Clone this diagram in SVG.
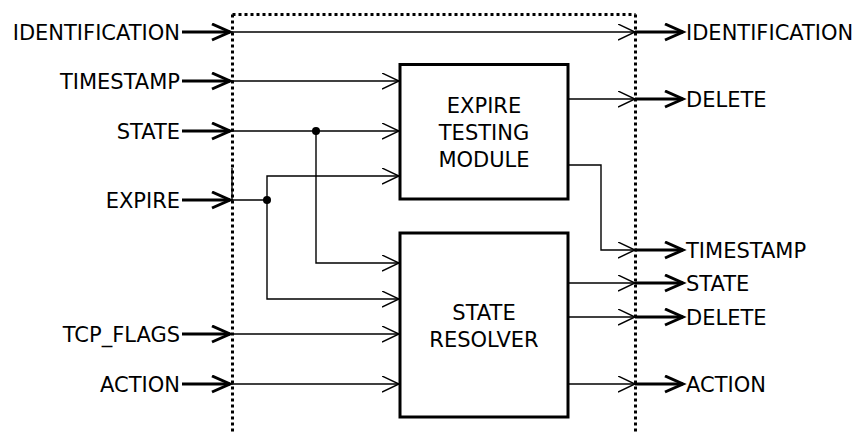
<svg xmlns="http://www.w3.org/2000/svg" width="858" height="432" viewBox="0 0 858 432">
<defs>
<style>
text{font-family:"DejaVu Sans","Liberation Sans",sans-serif;font-size:21px;fill:#000}
.lbl-in{text-anchor:end}
.mid{text-anchor:middle}
.thin{fill:none;stroke:#000;stroke-width:1.4}
.thick{fill:none;stroke:#000;stroke-width:3}
.box{fill:#fff;stroke:#000;stroke-width:3}
.dot{fill:none;stroke:#000;stroke-width:3;stroke-dasharray:3 3}
</style>
<marker id="ah" markerUnits="userSpaceOnUse" markerWidth="20" markerHeight="20" refX="17" refY="8" orient="auto" viewBox="0 0 20 20">
<path d="M0,0 L17,8 L0,16" fill="none" stroke="#000" stroke-width="1.4"/>
</marker>
<marker id="ahb" markerUnits="userSpaceOnUse" markerWidth="24" markerHeight="22" refX="19" refY="9" orient="auto" viewBox="0 0 24 22">
<path d="M1,1 L19,9 L1,17" fill="none" stroke="#000" stroke-width="3"/>
</marker>
</defs>
<g id="boundary">
<path class="dot" d="M232.5,14.5 H635.5"/>
<path class="dot" d="M232.5,14.5 V432"/>
<path class="dot" d="M635.5,14.5 V432"/>
<path class="thin" d="M232,168 V200"/>
</g>
<g id="connectors">
<path class="thick" d="M182,32 H230" marker-end="url(#ahb)"/>
<path class="thick" d="M182,81 H230" marker-end="url(#ahb)"/>
<path class="thick" d="M182,131 H230" marker-end="url(#ahb)"/>
<path class="thick" d="M182,200 H230" marker-end="url(#ahb)"/>
<path class="thick" d="M182,334 H230" marker-end="url(#ahb)"/>
<path class="thick" d="M182,384 H230" marker-end="url(#ahb)"/>
<path class="thin" d="M232,32 H635" marker-end="url(#ah)"/>
<path class="thin" d="M232,81 H399" marker-end="url(#ah)"/>
<path class="thin" d="M232,131 H399" marker-end="url(#ah)"/>
<path class="thin" d="M232,200 H267"/>
<path class="thin" d="M267,200 V176 H399" marker-end="url(#ah)"/>
<path class="thin" d="M267,200 V299 H399" marker-end="url(#ah)"/>
<path class="thin" d="M316,131 V263 H399" marker-end="url(#ah)"/>
<path class="thin" d="M232,334 H399" marker-end="url(#ah)"/>
<path class="thin" d="M232,384 H399" marker-end="url(#ah)"/>
<circle cx="316" cy="131" r="4"/>
<circle cx="267" cy="200" r="4"/>
<path class="thin" d="M568,99 H635" marker-end="url(#ah)"/>
<path class="thin" d="M568,165 H601 V250 H635" marker-end="url(#ah)"/>
<path class="thin" d="M568,283 H635" marker-end="url(#ah)"/>
<path class="thin" d="M568,317 H635" marker-end="url(#ah)"/>
<path class="thin" d="M568,384 H635" marker-end="url(#ah)"/>
<path class="thick" d="M635,32 H683" marker-end="url(#ahb)"/>
<path class="thick" d="M635,99 H683" marker-end="url(#ahb)"/>
<path class="thick" d="M635,250 H683" marker-end="url(#ahb)"/>
<path class="thick" d="M635,283 H683" marker-end="url(#ahb)"/>
<path class="thick" d="M635,317 H683" marker-end="url(#ahb)"/>
<path class="thick" d="M635,384 H683" marker-end="url(#ahb)"/>
</g>
<g id="etm">
<rect class="box" x="400" y="64.5" width="168" height="134.5"/>
<text class="mid" x="484" y="113">EXPIRE</text>
<text class="mid" x="484" y="140">TESTING</text>
<text class="mid" x="484" y="167">MODULE</text>
</g>
<g id="resolver">
<rect class="box" x="400" y="233" width="168" height="184"/>
<text class="mid" x="484" y="320">STATE</text>
<text class="mid" x="484" y="347">RESOLVER</text>
</g>
<g id="inputs">
<text class="lbl-in" x="180" y="39.5">IDENTIFICATION</text>
<text class="lbl-in" x="180" y="88.5">TIMESTAMP</text>
<text class="lbl-in" x="180" y="138.5">STATE</text>
<text class="lbl-in" x="180" y="207.5">EXPIRE</text>
<text class="lbl-in" x="180" y="341.5">TCP_FLAGS</text>
<text class="lbl-in" x="180" y="391.5">ACTION</text>
</g>
<g id="outputs">
<text x="686" y="39.5">IDENTIFICATION</text>
<text x="686" y="106.5">DELETE</text>
<text x="686" y="257.5">TIMESTAMP</text>
<text x="686" y="290.5">STATE</text>
<text x="686" y="324.5">DELETE</text>
<text x="686" y="391.5">ACTION</text>
</g>
</svg>
